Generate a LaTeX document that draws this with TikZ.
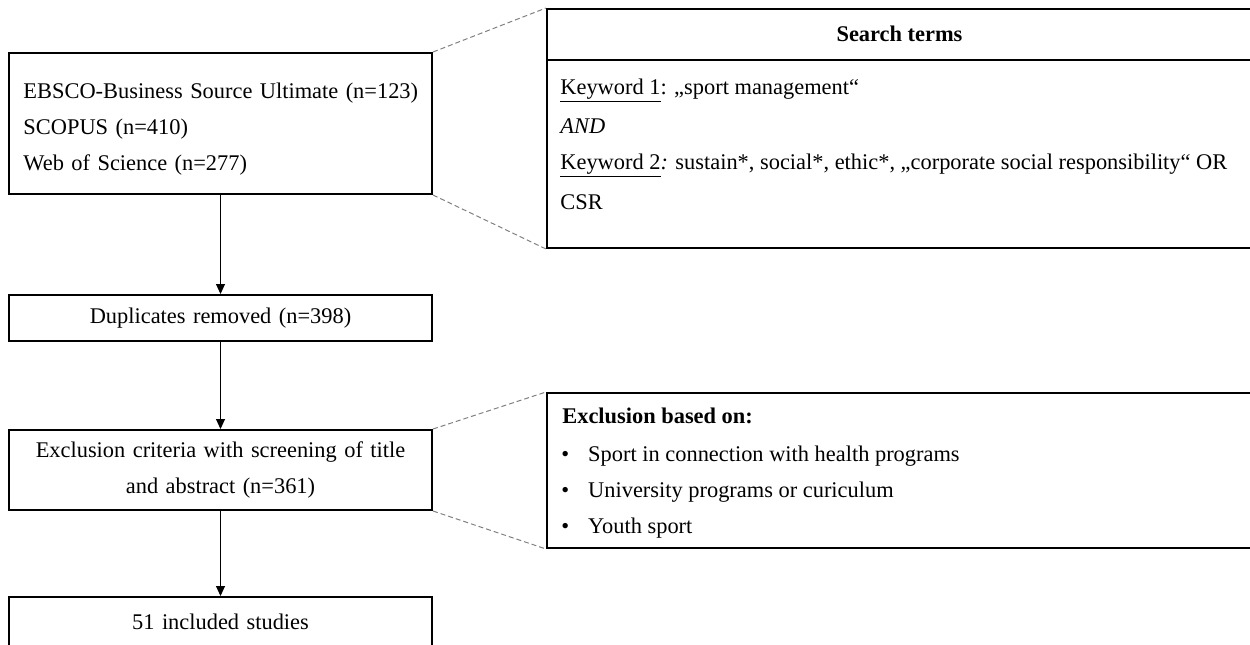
\documentclass[tikz,border=0pt]{standalone}
\usepackage{fontspec}
\setmainfont{Liberation Serif}
\usetikzlibrary{arrows.meta}

\newcommand{\boxfont}{\fontsize{11.2}{18}\selectfont}
\newcommand{\bul}{\textbullet\hspace{9.5pt}}

\tikzset{
  flowbox/.style={draw, line width=1pt, inner xsep=7.25pt, inner ysep=0pt,
    text width=197pt, minimum width=211.5pt, font=\boxfont},
  sidebox/.style={draw, line width=1pt, inner sep=0pt, minimum width=352.5pt},
  sidetext/.style={anchor=base west, inner sep=0pt, font=\boxfont},
  flowarrow/.style={line width=0.5pt, -{Triangle[length=5pt,width=4.5pt]}},
  zoomline/.style={gray, line width=0.5pt, dash pattern=on 2.5pt off 1.5pt}
}

\begin{document}
\begin{tikzpicture}[x=0.5pt, y=-0.5pt]

    % Page frame (the side boxes run off the right edge)
    \clip (0,0) rectangle (1250,644);

    % Main flow on the left, one box per step
    \node[flowbox, align=left, minimum height=70.5pt] (src) at (220.5,123.5)
        {\rule{0pt}{13pt}\mbox{EBSCO-Business Source Ultimate (n=123)}\\SCOPUS (n=410)\\Web of Science (n=277)};
    \node[flowbox, align=center, minimum height=23pt] (dup) at (220.5,318)
        {Duplicates removed (n=398)};
    \node[flowbox, align=center, minimum height=40pt] (excl) at (220.5,470)
        {Exclusion criteria with screening of title\\and abstract (n=361)};
    \node[flowbox, align=center, minimum height=24.5pt] (incl) at (220.5,621.5)
        {51 included studies};

    % Arrows between the steps
    \draw[flowarrow] (src) -- (dup);
    \draw[flowarrow] (dup) -- (excl);
    \draw[flowarrow] (excl) -- (incl);

    % Side box with the search terms
    \node[sidebox, minimum height=119.5pt] (terms) at (899.5,128.5) {};
    \draw[line width=0.7pt] (547,60) -- (1252,60);
    \node[font=\boxfont\bfseries, inner sep=0pt] (termshead) at (899.5,34) {Search terms};
    \node[sidetext] (kw1) at (560,94) {\underline{Keyword 1}: „sport management“};
    \node[sidetext] (and) at (560,133) {\textit{AND}};
    \node[sidetext] (kw2) at (560,169)
        {\underline{Keyword 2}\textit{:} sustain*, social*, ethic*, „corporate social responsibility“ OR};
    \node[sidetext] (csr) at (560,209) {CSR};

    % Side box with the exclusion criteria
    \node[sidebox, minimum height=77.5pt] (basis) at (899.5,470.5) {};
    \node[sidetext, font=\boxfont\bfseries] (basishead) at (562,423) {Exclusion based on:};
    \node[sidetext] (ex1) at (561,461) {\bul Sport in connection with health programs};
    \node[sidetext] (ex2) at (561,497) {\bul University programs or curiculum};
    \node[sidetext] (ex3) at (561,533) {\bul Youth sport};

    % Dashed zoom lines from the flow boxes to the side boxes
    \draw[zoomline] (src.north east) -- (terms.north west);
    \draw[zoomline] (src.south east) -- (terms.south west);
    \draw[zoomline] (excl.north east) -- (basis.north west);
    \draw[zoomline] (excl.south east) -- (basis.south west);

\end{tikzpicture}
\end{document}
